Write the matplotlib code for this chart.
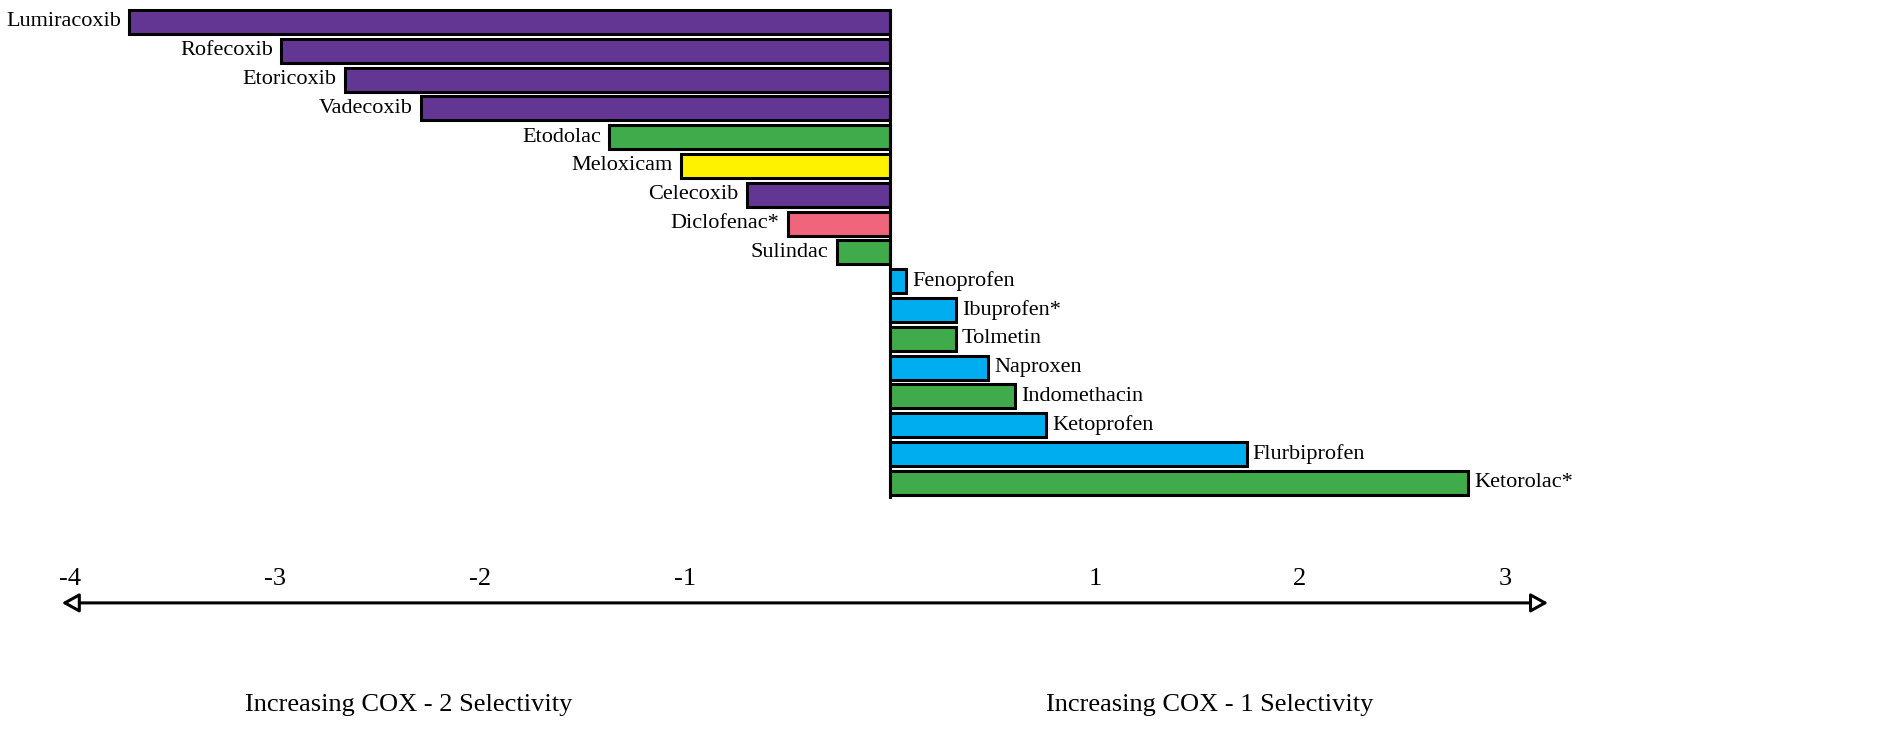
import matplotlib.pyplot as plt
from matplotlib.patches import FancyArrowPatch

plt.rcParams['font.family'] = ['Liberation Serif', 'DejaVu Serif']

# Data: COX selectivity (log ratio)
drugs = ['Lumiracoxib', 'Rofecoxib', 'Etoricoxib', 'Vadecoxib', 'Etodolac',
         'Meloxicam', 'Celecoxib', 'Diclofenac*', 'Sulindac', 'Fenoprofen',
         'Ibuprofen*', 'Tolmetin', 'Naproxen', 'Indomethacin', 'Ketoprofen',
         'Flurbiprofen', 'Ketorolac*']
selectivity = [-3.71, -2.97, -2.66, -2.29, -1.37, -1.02, -0.70, -0.50, -0.26,
               0.08, 0.32, 0.32, 0.48, 0.61, 0.76, 1.74, 2.82]
drug_class = ['coxib', 'coxib', 'coxib', 'coxib', 'acetic', 'oxicam', 'coxib',
              'diclofenac', 'acetic', 'propionic', 'propionic', 'acetic',
              'propionic', 'acetic', 'propionic', 'propionic', 'acetic']
tick_values = [-4, -3, -2, -1, 1, 2, 3]

class_colors = {
    'coxib': '#633694',
    'acetic': '#40ab4a',
    'oxicam': '#fff200',
    'diclofenac': '#f0647c',
    'propionic': '#00aeef',
}

fig = plt.figure(figsize=(18.91, 7.34), dpi=100)
ax = fig.add_axes([0, 0, 1, 1])

# axis scale: 0 at x=890 px, 205 px per unit; bar pitch 28.8 px
ax.set_xlim(-890 / 205, 1001 / 205)
ax.set_ylim((734 - 22) / 28.8, -22 / 28.8)
ax.axis('off')

ypos = list(range(len(drugs)))
colors = [class_colors[c] for c in drug_class]
ax.barh(ypos, selectivity, height=0.83, color=colors, edgecolor='black',
        linewidth=2.2, zorder=2)

# zero line
ax.plot([0, 0], [-0.42, 16.5], color='black', lw=2.2, zorder=3)

for y, v, name in zip(ypos, selectivity, drugs):
    if v < 0:
        ax.text(v - 0.04, y, name, ha='right', va='center', fontsize=16)
    else:
        ax.text(v + 0.03, y, name, ha='left', va='center', fontsize=16)

# tick labels above the double arrow
for t in tick_values:
    ax.text(t, 19.35, str(t), ha='center', va='center', fontsize=19)

arrow = FancyArrowPatch((-4.04, 20.17), (3.21, 20.17),
                        arrowstyle='<|-|>,head_length=0.9,head_width=0.5',
                        mutation_scale=11.5, fc='white', ec='black', lw=2.2,
                        shrinkA=0, shrinkB=0)
ax.add_patch(arrow)

ax.text(-2.35, 23.7, 'Increasing COX - 2 Selectivity', ha='center',
        va='center', fontsize=19)
ax.text(1.56, 23.7, 'Increasing COX - 1 Selectivity', ha='center',
        va='center', fontsize=19)

fig.savefig('out.png', dpi=100)
